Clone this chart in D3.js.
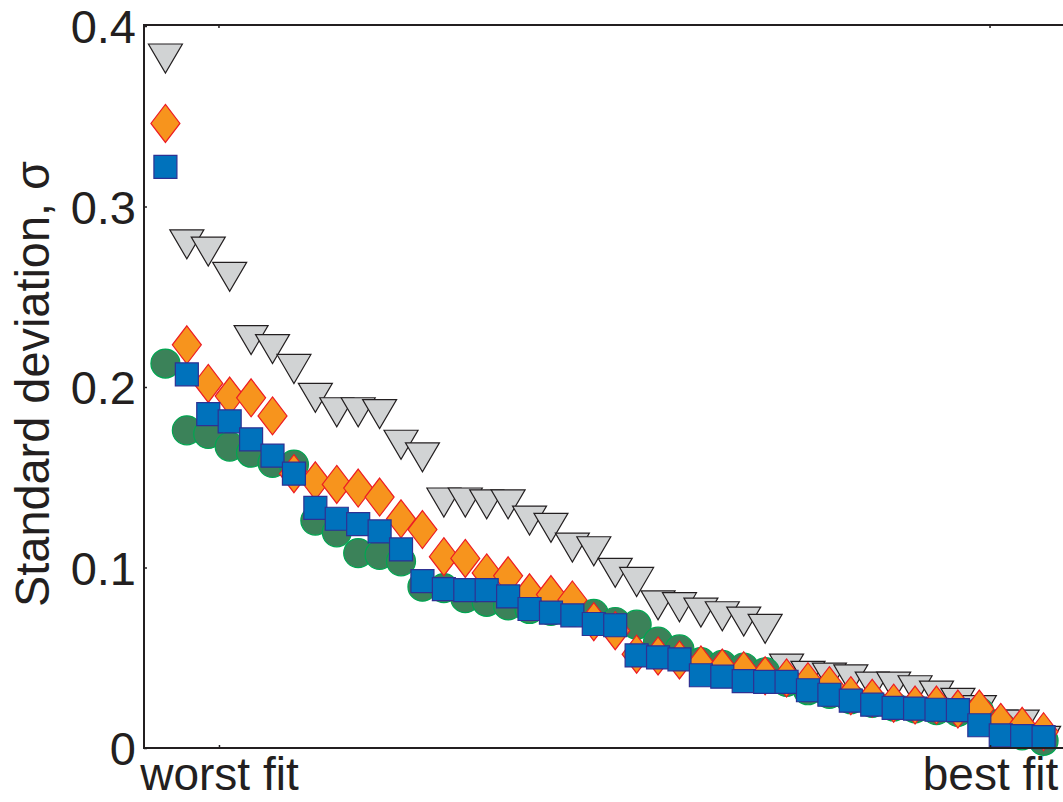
<!DOCTYPE html>
<html>
<head>
<meta charset="utf-8">
<script src="https://cdn.jsdelivr.net/npm/d3@7"></script>
<style>
  html, body { margin: 0; padding: 0; background: #fff; overflow: hidden; }
  text { font-family: "Liberation Sans", Arial, Helvetica, sans-serif; fill: #231f20; }
</style>
</head>
<body>
<div id="chart"></div>
<script>
// Fit quality rank: index 1 = worst fit ... 42 = best fit.
const grayValues = [0.382, 0.279, 0.275, 0.261, 0.226, 0.221, 0.210, 0.194, 0.186, 0.186, 0.185, 0.168, 0.161, 0.136,
  0.136, 0.135, 0.135, 0.126, 0.122, 0.111, 0.109, 0.097, 0.092, 0.079, 0.078, 0.075, 0.073, 0.070, 0.066, 0.044,
  0.040, 0.039, 0.038, 0.034, 0.034, 0.032, 0.029, 0.025, 0.021, 0.013, 0.013, 0.004];
const greenValues = [0.213, 0.176, 0.174, 0.167, 0.1636, 0.158, 0.157, 0.126, 0.1195, 0.108, 0.107, 0.1034, 0.0894,
  0.0886, 0.083, 0.081, 0.079, 0.077, 0.076, 0.0755, 0.0743, 0.0698, 0.0683, 0.0589, 0.0546, 0.0476, 0.046, 0.0446,
  0.042, 0.0366, 0.032, 0.030, 0.027, 0.025, 0.023, 0.022, 0.021, 0.020, 0.020, 0.012, 0.007, 0.004];
const orangeValues = [0.346, 0.2234, 0.202, 0.195, 0.194, 0.184, 0.152, 0.148, 0.146, 0.144, 0.139, 0.127, 0.121,
  0.106, 0.105, 0.097, 0.0954, 0.086, 0.085, 0.082, 0.070, 0.065, 0.052, 0.051, 0.0488, 0.046, 0.0443, 0.0428, 0.040,
  0.0388, 0.0367, 0.0345, 0.029, 0.0275, 0.0248, 0.0238, 0.0238, 0.0216, 0.0216, 0.0142, 0.012, 0.009];
const blueValues = [0.322, 0.207, 0.185, 0.181, 0.171, 0.162, 0.152, 0.133, 0.127, 0.124, 0.120, 0.110, 0.0925, 0.088,
  0.0875, 0.0875, 0.084, 0.077, 0.075, 0.0735, 0.0687, 0.068, 0.0513, 0.0502, 0.0491, 0.0403, 0.0395, 0.037, 0.0366,
  0.0366, 0.032, 0.0295, 0.0262, 0.024, 0.0222, 0.0218, 0.0212, 0.021, 0.0126, 0.007, 0.0066, 0.006];

const yTicks = [0, 0.1, 0.2, 0.3, 0.4];
const xTickPositions = [3.5, 39.5];
const xTickLabels = ['worst fit', 'best fit'];
const yLabel = 'Standard deviation, \u03c3';

const width = 1063, height = 802;
const plotLeft = 144, plotRight = 1065, plotTop = 25, plotBottom = 748;

const svg = d3.select('#chart').append('svg')
  .attr('width', width).attr('height', height);

const x = d3.scaleLinear().domain([0, 43]).range([plotLeft, plotRight]);
const y = d3.scaleLinear().domain([0, 0.4]).range([plotBottom, plotTop + 1]);

// Marker shapes drawn around (0,0)
const shapes = {
  triangle: () => 'M-17,-14.5L17,-14.5L0,14.5Z',
  diamond: () => 'M0,-19L14.5,0L0,19L-14.5,0Z',
  square: () => 'M-11.5,-11.5H11.5V11.5H-11.5Z',
  circle: () => d3.arc()({innerRadius: 0, outerRadius: 14.5, startAngle: 0, endAngle: 2 * Math.PI})
};

// Draw order matters: later series sit on top.
const series = [
  {values: grayValues, shape: 'triangle', fill: '#d1d3d4', stroke: '#231f20'},
  {values: greenValues, shape: 'circle', fill: '#3b8259', stroke: '#00a651'},
  {values: orangeValues, shape: 'diamond', fill: '#f7941d', stroke: '#ed1c24'},
  {values: blueValues, shape: 'square', fill: '#0072bc', stroke: '#2e3192'}
];

const marks = svg.append('g').attr('class', 'marks');
series.forEach(s => {
  marks.append('g')
    .selectAll('path')
    .data(s.values)
    .join('path')
    .attr('d', shapes[s.shape]())
    .attr('transform', (d, i) => `translate(${x(i + 1)},${y(d)})`)
    .attr('fill', s.fill)
    .attr('stroke', s.stroke)
    .attr('stroke-width', 1.2);
});

// Axes: short ticks pointing inward, MATLAB style
const yAxis = d3.axisLeft(y).tickValues(yTicks).tickSize(-3).tickPadding(8)
  .tickFormat(d => d === 0 ? '0' : d3.format('.1f')(d));
const yAxisGroup = svg.append('g')
  .attr('transform', `translate(${plotLeft},0)`)
  .call(yAxis);
yAxisGroup.select('.domain').remove();
yAxisGroup.selectAll('line').attr('stroke', '#231f20').attr('stroke-width', 1.5);
yAxisGroup.selectAll('text').attr('font-size', 47).attr('fill', '#231f20').attr('dy', '0.36em');

const xAxis = d3.axisBottom(x).tickValues(xTickPositions).tickSize(-3).tickPadding(12)
  .tickFormat((d, i) => xTickLabels[i]);
const xAxisGroup = svg.append('g')
  .attr('transform', `translate(0,${plotBottom})`)
  .call(xAxis);
xAxisGroup.select('.domain').remove();
xAxisGroup.selectAll('line').attr('stroke', '#231f20').attr('stroke-width', 1.5);
xAxisGroup.selectAll('text').attr('font-size', 46).attr('fill', '#231f20').attr('dy', '0.66em');

// Top ticks
svg.append('g').selectAll('line')
  .data(xTickPositions)
  .join('line')
  .attr('x1', d => x(d)).attr('x2', d => x(d))
  .attr('y1', plotTop).attr('y2', plotTop + 3)
  .attr('stroke', '#231f20').attr('stroke-width', 1.5);

// Frame
svg.append('rect')
  .attr('x', plotLeft).attr('y', plotTop)
  .attr('width', plotRight - plotLeft).attr('height', plotBottom - plotTop)
  .attr('fill', 'none')
  .attr('stroke', '#231f20')
  .attr('stroke-width', 2);

svg.append('text')
  .attr('transform', `translate(49,384) rotate(-90)`)
  .attr('text-anchor', 'middle')
  .attr('font-size', 48)
  .attr('textLength', 446)
  .attr('lengthAdjust', 'spacingAndGlyphs')
  .text(yLabel);
</script>
</body>
</html>
